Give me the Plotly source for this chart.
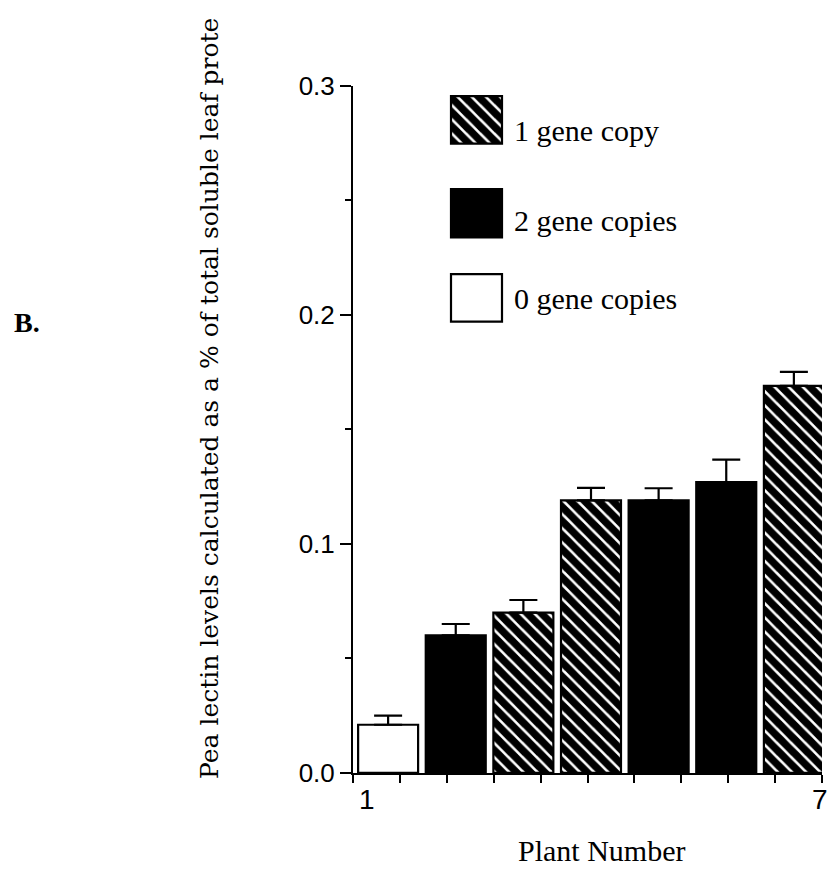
import numpy as np
import plotly.graph_objects as go

# ---------------- data ----------------
plants = [1, 2, 3, 4, 5, 6, 7]
gene_copies = [0, 2, 1, 1, 2, 2, 1]
lectin_pct = [0.021, 0.060, 0.070, 0.119, 0.119, 0.127, 0.169]
lectin_err = [0.004, 0.005, 0.0055, 0.0055, 0.0053, 0.0098, 0.0061]
y_tick_vals = [0.0, 0.1, 0.2, 0.3]
x_tick_labels = {1: "1", 7: "7"}
legend_order = [1, 2, 0]
legend_labels = {1: "1 gene copy", 2: "2 gene copies", 0: "0 gene copies"}

# ---------------- styles ----------------
W, H = 829, 885
styles = {
    1: dict(color="white", pattern=dict(shape="\\", size=10, solidity=0.75,
                                          fgcolor="black", bgcolor="white",
                                          fgopacity=1)),
    2: dict(color="black", pattern=dict(shape="")),
    0: dict(color="white", pattern=dict(shape="")),
}
bar_w = 0.887
x_lo, x_hi = 0.4828, 7.4138

fig = go.Figure()

for g in [0, 1, 2]:
    idx = [i for i, c in enumerate(gene_copies) if c == g]
    fig.add_trace(go.Bar(
        x=[plants[i] for i in idx],
        y=[lectin_pct[i] for i in idx],
        width=bar_w,
        marker=dict(color=styles[g]["color"], pattern=styles[g]["pattern"],
                    line=dict(color="black", width=2.2)),
        error_y=dict(type="data", symmetric=False,
                     array=[lectin_err[i] for i in idx],
                     arrayminus=[0] * len(idx),
                     color="black", thickness=2.2, width=14),
        showlegend=False,
        xaxis="x", yaxis="y",
    ))

# ---- custom legend (pixel overlay axes x2/y2) ----
leg_x0, leg_x1 = 451, 502
leg_rows = {1: (85, 134), 2: (181, 231), 0: (269, 318)}
leg_text_y = {1: 120, 2: 214, 0: 294}
for g in legend_order:
    y0, y1 = leg_rows[g]
    fig.add_trace(go.Bar(
        x=[(leg_x0 + leg_x1) / 2], y=[y1 - y0], base=[y0], width=leg_x1 - leg_x0,
        marker=dict(color=styles[g]["color"], pattern=styles[g]["pattern"],
                    line=dict(color="black", width=2.2)),
        showlegend=False, xaxis="x2", yaxis="y2", hoverinfo="skip",
    ))
    fig.add_annotation(x=512, y=leg_text_y[g], xref="x2", yref="y2",
                       text=legend_labels[g], showarrow=False,
                       xanchor="left", yanchor="middle",
                       font=dict(family="Liberation Serif", size=30, color="black"))

# x tick labels (1 and 7)
label_pos = {1: 0.69, 7: 7.38}
for p, t in x_tick_labels.items():
    fig.add_annotation(x=label_pos[p], y=812, xref="x", yref="y2", text=t,
                       showarrow=False, xanchor="center", yanchor="middle",
                       font=dict(family="Liberation Sans", size=28, color="black"))

# axis titles
fig.add_annotation(x=601, y=865, xref="x2", yref="y2", text="Plant Number",
                   showarrow=False, xanchor="center", yanchor="middle",
                   font=dict(family="Liberation Serif", size=30, color="black"))
fig.add_annotation(x=210, y=398, xref="x2", yref="y2",
                   text="Pea lectin levels calculated as a % of total soluble leaf prote",
                   textangle=-90, showarrow=False, xanchor="center", yanchor="middle",
                   font=dict(family="DejaVu Serif, serif", size=25, color="black"))
fig.add_annotation(x=12, y=319, xref="x2", yref="y2", text="<b>B.</b>",
                   showarrow=False, xanchor="left", yanchor="middle",
                   font=dict(family="Liberation Serif", size=28, color="black"))

x_ticks = list(np.linspace(x_lo, x_hi, 11))

fig.update_layout(
    width=W, height=H,
    margin=dict(l=0, r=0, t=0, b=0),
    paper_bgcolor="white", plot_bgcolor="rgba(0,0,0,0)",
    barmode="overlay",
    xaxis=dict(domain=[353 / W, 822 / W], range=[x_lo - 0.002, x_hi + 0.002],
               tickmode="array", tickvals=x_ticks, showticklabels=False,
               ticks="outside", ticklen=8, tickwidth=2, tickcolor="black",
               showline=True, linewidth=2, linecolor="black",
               showgrid=False, zeroline=False, anchor="y"),
    yaxis=dict(domain=[1 - 785 / H, 1 - 74 / H], range=[-0.0002, 0.3002],
               tickmode="array", tickvals=y_tick_vals, tickformat=".1f",
               ticks="outside", ticklen=11, tickwidth=2, tickcolor="black",
               minor=dict(tickmode="array", tickvals=[0.05, 0.15, 0.25],
                          ticks="outside", ticklen=6, tickwidth=2, tickcolor="black"),
               tickfont=dict(family="Liberation Sans", size=26, color="black"),
               showline=True, linewidth=2, linecolor="black",
               showgrid=False, zeroline=False, anchor="x"),
    xaxis2=dict(domain=[0, 1], range=[0, W], visible=False, anchor="y2",
                fixedrange=True),
    yaxis2=dict(domain=[0, 1], range=[H, 0], visible=False, anchor="x2",
                fixedrange=True),
)

fig.write_html("out.html")
